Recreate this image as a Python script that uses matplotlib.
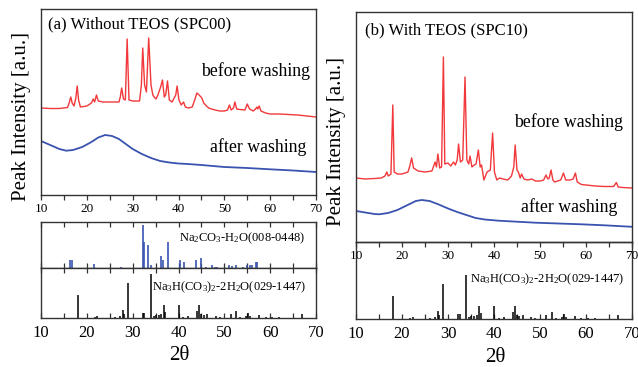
import matplotlib
matplotlib.use("Agg")
import matplotlib.pyplot as plt
from matplotlib.ticker import MultipleLocator

plt.rcParams['font.family'] = ['Liberation Serif', 'DejaVu Serif']
plt.rcParams['mathtext.fontset'] = 'custom'
plt.rcParams['mathtext.rm'] = 'Liberation Serif'
plt.rcParams['mathtext.it'] = 'Liberation Serif:italic'

# ---------------- data (2theta, arbitrary intensity) ----------------
red_a_x = [10, 12, 14, 15.8, 16.2, 16.5, 16.8, 17.2, 17.6, 17.9, 18.2, 18.6, 20, 21.0, 21.4, 21.7, 22.1, 22.5,
           23.5, 25, 27, 27.3, 27.6, 28.0, 28.4, 28.8, 29.2, 30, 31.5, 31.9, 32.2, 32.6, 33.0, 33.5, 34.0, 34.4,
           34.7, 35.1, 35.5, 36.1, 36.5, 36.9, 37.2, 37.6, 38.0, 38.6, 39.4, 39.7, 40.1, 40.6, 41.1, 41.5, 42.2,
           43.0, 43.6, 44.0, 44.5, 45.1, 45.5, 46.1, 46.6, 47.2, 48, 49, 50, 50.7, 51.1, 51.5, 52.0, 52.3, 52.7,
           53.4, 54.5, 55.0, 55.5, 56.3, 56.8, 57.1, 57.3, 57.6, 58.0, 59, 60, 62, 64, 66, 68, 70]
red_a_y = [87, 86.5, 86.5, 87.5, 93, 98, 92, 89, 97, 109, 95, 88, 89, 92, 96, 93, 100, 94,
           93, 93, 93, 98, 107, 96, 95, 156, 95, 94, 94, 110, 147, 110, 103, 157, 110, 100,
           98, 96, 100, 108, 115, 98, 100, 114, 95, 93, 100, 109, 95, 90, 93, 88, 87,
           88, 96, 102, 100, 97, 92, 89, 87, 86, 85, 84, 84, 85, 90, 85, 87, 93, 86,
           85.5, 85, 91, 86, 84, 86, 88, 86, 89, 84, 82, 81, 81, 80.5, 80, 79, 78]

blue_a_x = [10, 12, 14, 15.5, 17, 19, 21, 22.5, 24, 25.5, 27, 28.5, 30, 32, 34, 36, 38, 40, 42, 45,
            50, 55, 60, 65, 70]
blue_a_y = [54, 50, 46, 44.3, 45, 48, 53, 57.5, 60, 59, 56, 51, 46, 41, 37, 34, 32.5, 31.5, 31, 30,
            28, 27, 25.7, 24.5, 23]

red_b_x = [10, 12, 14, 15.5, 16.3, 16.7, 17.0, 17.6, 18.0, 18.3, 19, 20, 21.3, 21.7, 22.1, 22.5, 23.5,
           25, 26.5, 27.2, 27.5, 27.8, 28.2, 28.6, 29.0, 29.3, 30.0, 30.6, 31.2, 31.6, 32.0, 32.3, 32.7,
           33.2, 33.7, 34.1, 34.5, 34.8, 35.2, 35.7, 36.1, 36.6, 37.0, 37.3, 37.8, 38.5, 39.2, 39.7,
           40.1, 40.6, 41.2, 42, 43, 43.8, 44.3, 44.6, 45.0, 45.3, 45.7, 46.0, 46.5, 47.3, 48.2, 49,
           50, 50.8, 51.3, 51.7, 52.0, 52.4, 52.8, 53.2, 54.5, 55.1, 55.6, 56.5, 57.2, 57.7, 58.1, 59,
           60, 62, 64, 66, 66.6, 67.0, 68, 70]
red_b_y = [64, 63, 63.5, 64, 66, 70, 66, 68, 137, 70, 68, 68, 70, 76, 84, 74, 71,
           70, 71, 80, 75, 88, 74, 75, 185, 78, 79, 76, 80, 77, 82, 98, 80,
           82, 165, 82, 78, 86, 75, 77, 78, 92, 75, 77, 62, 70, 72, 109,
           70, 62, 64, 63, 62, 66, 75, 97, 72, 70, 64, 68, 63, 62, 63, 61,
           61, 62, 67, 63, 64, 72, 62, 60, 62, 69, 62, 62, 63, 69, 60, 57.5,
           57, 56, 55.5, 55.5, 59.5, 55, 54.5, 54]

blue_b_x = [10, 12, 14, 15, 17, 19, 21, 23, 24.3, 26, 28, 30, 32, 34, 36, 38, 41, 45, 49, 54, 59, 64, 70]
blue_b_y = [31, 29.5, 28, 27.7, 29, 32, 36.5, 41, 42, 41, 37.5, 33.5, 30, 27, 24, 22.5, 21.3, 20.3,
            19.3, 18.5, 17.7, 16.7, 15.2]

# reference patterns
ref1_pos = [16.4, 16.8, 21.6, 27.5, 32.3, 32.5, 33.4, 34.1, 36.2, 36.6, 37.8, 40.3, 41.3, 43.8, 45.0,
            45.9, 47.2, 47.9, 48.4, 51.1, 51.6, 52.5, 54.1, 55.0, 55.5, 56.0, 56.9, 57.2]
ref1_int = [8.3, 8.3, 4.3, 1.0, 43.3, 25.7, 23.3, 3.3, 12.3, 8.3, 26, 8.3, 6, 7.7, 10,
            1, 3.3, 1.5, 1, 3.3, 2, 3, 1.5, 3, 3, 3, 5.7, 5.7]

ref2_pos = [18.0, 21.7, 22.3, 26.1, 27.2, 27.8, 28.1, 28.9, 32.2, 32.5, 33.9, 34.6, 35.0, 35.7, 36.2,
            36.8, 37.1, 40.0, 41.0, 42.1, 44.1, 44.5, 44.9, 45.5, 46.2, 48.1, 49.0, 51.4, 52.5, 53.4,
            54.8, 55.2, 55.6, 57.6, 59.0, 60.5, 62.0, 66.9]
ref2_int = [23.3, 1, 2, 1, 2, 8.3, 4, 35, 5, 5, 44, 2, 3, 3.5, 4,
            12.7, 6, 12.7, 1, 2, 7.3, 12.7, 4, 3, 4, 2, 1, 4, 6.7, 1.5,
            2, 5, 2, 3, 1, 1, 1, 4]

W, H = 638, 367
red = '#f2383a'
blue = '#3a53b0'
spine_c = '#333333'

fig = plt.figure(figsize=(W / 100, H / 100), dpi=100)


def box(l, t, r, b):
    return [l / W, 1 - b / H, (r - l) / W, (b - t) / H]


def style(ax, bottom_dir='out', top=False, labels=True, lsize=10, pad=3):
    for s in ax.spines.values():
        s.set_color(spine_c)
        s.set_linewidth(1.0)
    ax.set_xlim(10, 70)
    ax.xaxis.set_major_locator(MultipleLocator(10))
    ax.xaxis.set_minor_locator(MultipleLocator(5))
    ax.tick_params(axis='x', which='both', direction=bottom_dir, length=3.5, width=0.9,
                   color=spine_c, top=top, labelbottom=labels, labelsize=lsize, pad=pad)
    ax.tick_params(axis='y', which='both', left=False, labelleft=False)
    ax.set_yticks([])


# ---------- panel (a) ----------
ax_a = fig.add_axes(box(41, 9, 316, 195))
ax_a.plot(red_a_x, red_a_y, color=red, lw=1.0)
ax_a.plot(blue_a_x, blue_a_y, color=blue, lw=1.3)
ax_a.set_ylim(0, 186)
style(ax_a, 'out', lsize=9.5, pad=2)
ax_a.text(0.025, 0.919, '(a) Without TEOS (SPC00)', transform=ax_a.transAxes, fontsize=12, va='center', ha='left')
ax_a.text(0.978, 0.667, 'before washing', transform=ax_a.transAxes, fontsize=12.8, va='center', ha='right')
ax_a.text(0.964, 0.258, 'after washing', transform=ax_a.transAxes, fontsize=12.8, va='center', ha='right')

ax_a1 = fig.add_axes(box(41, 222, 316, 268))
ax_a1.vlines(ref1_pos, 0, ref1_int, color=blue, lw=1.2)
ax_a1.set_ylim(0, 46)
style(ax_a1, 'in', top=True, labels=False)
ax_a1.text(0.96, 0.65, r'Na$_2$CO$_3$-H$_2$O(008-0448)', transform=ax_a1.transAxes,
           fontsize=9, va='center', ha='right')

ax_a2 = fig.add_axes(box(41, 268, 316, 318))
ax_a2.vlines(ref2_pos, 0, ref2_int, color='black', lw=1.1)
ax_a2.set_ylim(0, 50)
style(ax_a2, 'in', top=True, labels=True, lsize=12, pad=5)
ax_a2.text(0.964, 0.62, r'Na$_3$H(CO$_3$)$_2$-2H$_2$O(029-1447)', transform=ax_a2.transAxes,
           fontsize=9, va='center', ha='right')

fig.text(22 / W, 1 - 117 / H, 'Peak Intensity [a.u.]', rotation=90, fontsize=15, va='center', ha='center')
fig.text(179 / W, 1 - 355 / H, '2θ', fontsize=15, va='center', ha='center')

# ---------- panel (b) ----------
ax_b = fig.add_axes(box(356, 12, 632, 242))
ax_b.plot(red_b_x, red_b_y, color=red, lw=1.0)
ax_b.plot(blue_b_x, blue_b_y, color=blue, lw=1.3)
ax_b.set_ylim(0, 230)
style(ax_b, 'out', lsize=9.5, pad=2)
ax_b.text(0.033, 0.922, '(b) With TEOS (SPC10)', transform=ax_b.transAxes, fontsize=12, va='center', ha='left')
ax_b.text(0.967, 0.522, 'before washing', transform=ax_b.transAxes, fontsize=12.8, va='center', ha='right')
ax_b.text(0.946, 0.152, 'after washing', transform=ax_b.transAxes, fontsize=12.8, va='center', ha='right')

ax_b1 = fig.add_axes(box(356, 242, 632, 319))
ax_b1.patch.set_alpha(0)
ax_b1.vlines(ref2_pos, 0, ref2_int, color='black', lw=1.1)
ax_b1.set_ylim(0, 77)
style(ax_b1, 'in', top=False, labels=True, lsize=12, pad=5)
ax_b1.text(0.971, 0.52, r'Na$_3$H(CO$_3$)$_2$-2H$_2$O(029-1447)', transform=ax_b1.transAxes,
           fontsize=9, va='center', ha='right')
ax_b.set_zorder(3)
ax_b.patch.set_alpha(0)

fig.text(337 / W, 1 - 141 / H, 'Peak Intensity [a.u.]', rotation=90, fontsize=15, va='center', ha='center')
fig.text(495 / W, 1 - 357 / H, '2θ', fontsize=15, va='center', ha='center')

fig.savefig('out.png', dpi=100)
